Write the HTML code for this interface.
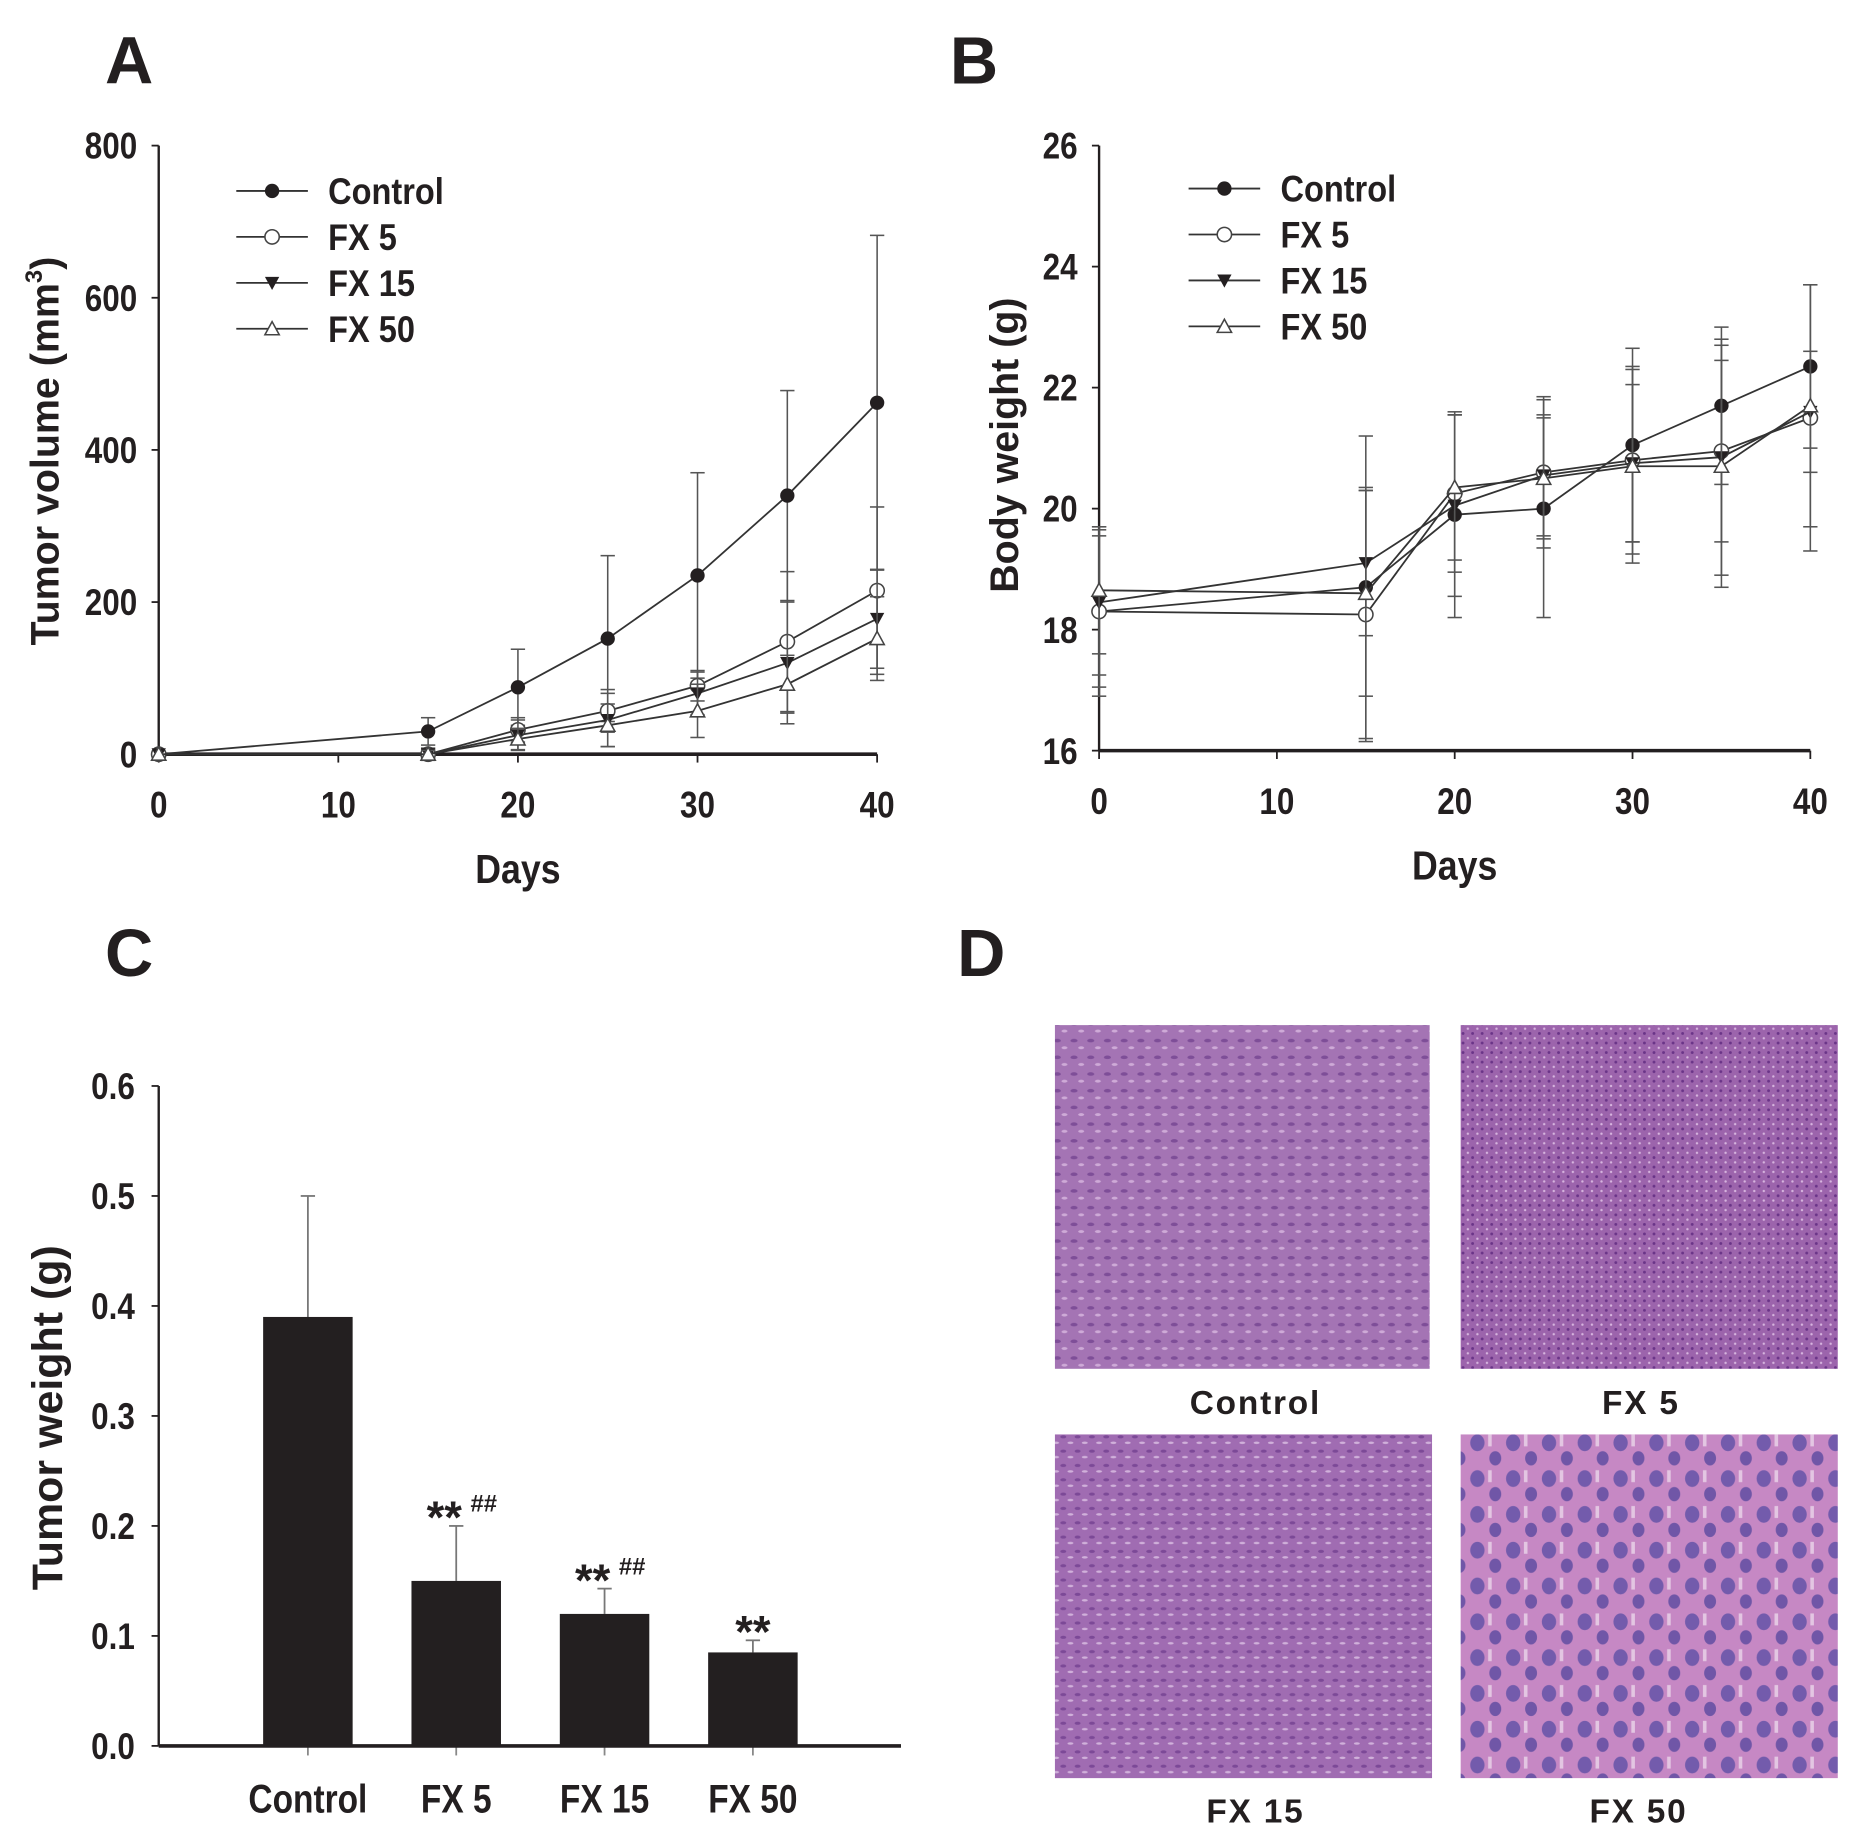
<!DOCTYPE html>
<html><head><meta charset="utf-8"><style>
html,body{margin:0;padding:0;background:#fff;}
svg{display:block;}
text{font-family:"Liberation Sans",Arial,sans-serif;font-weight:bold;fill:#231f20;}
</style></head><body>
<svg id="fig" width="1870" height="1839" viewBox="0 0 1567 1541" xmlns="http://www.w3.org/2000/svg">
<defs>
<pattern id="pA" width="14" height="14" patternUnits="userSpaceOnUse"><rect width="14" height="14" fill="#a474b4"/><ellipse cx="4" cy="4" rx="3" ry="1.5" fill="#6e3e8c" opacity=".7"/><ellipse cx="10" cy="10" rx="2.5" ry="1.2" fill="#d8b8e0" opacity=".8"/></pattern>
<pattern id="pB" width="8" height="8" patternUnits="userSpaceOnUse"><rect width="8" height="8" fill="#9c64ac"/><circle cx="2" cy="2" r="1.2" fill="#6a3488"/><circle cx="6" cy="6" r="1" fill="#d6b4de"/></pattern>
<pattern id="pC" width="12" height="12" patternUnits="userSpaceOnUse"><rect width="12" height="12" fill="#a06cb2"/><ellipse cx="3" cy="4" rx="2.5" ry="1.3" fill="#6c3a8c" opacity=".7"/><ellipse cx="9" cy="9" rx="2.5" ry="1" fill="#dcc0e4" opacity=".8"/></pattern>
<pattern id="pD" width="30" height="30" patternUnits="userSpaceOnUse"><rect width="30" height="30" fill="#c688c4"/><ellipse cx="8" cy="9" rx="6" ry="7" fill="#6454a8" opacity=".85"/><ellipse cx="23" cy="22" rx="5" ry="6" fill="#5a4aa0" opacity=".8"/><rect x="17" y="2" width="3" height="10" fill="#f0e0f0" opacity=".7"/></pattern>
</defs>
<g id="root"></g>
</svg>
<script>
// Panel A data
const daysA = [0,15,20,25,30,35,40];
const volControl = [0,30,88,152,235,340,462];
const volControlErr = [0,18,50,109,135,138,220];
const volFX5 = [0,0,32,57,90,148,215];
const volFX5Err = [0,8,16,28,20,92,110];
const volFX15 = [0,0,25,45,80,120,178];
const volFX15Err = [0,6,20,35,28,80,65];
const volFX50 = [0,0,20,38,57,92,152];
const volFX50Err = [0,5,14,28,35,38,55];
const ticksA = [0,200,400,600,800];
const xTicks = [0,10,20,30,40];
// Panel B data
const wControl = [18.3,18.7,19.9,20.0,21.05,21.7,22.35];
const wControlErr = [1.4,2.5,1.7,1.8,1.6,1.3,1.35];
const wFX5 = [18.3,18.25,20.25,20.6,20.8,20.95,21.5];
const wFX5Err = [1.25,2.1,1.3,1.25,1.55,1.5,2.2];
const wFX15 = [18.45,19.1,20.05,20.55,20.75,20.85,21.6];
const wFX15Err = [1.2,1.2,1.5,1.0,1.3,1.95,1.0];
const wFX50 = [18.65,18.6,20.35,20.5,20.7,20.7,21.7];
const wFX50Err = [1.05,1.7,1.2,1.0,1.6,2.0,2.0];
const ticksB = [16,18,20,22,24,26];
// Panel C data
const groups = ["Control","FX 5","FX 15","FX 50"];
const tumorW = [0.39,0.15,0.12,0.085];
const tumorWErr = [0.11,0.05,0.023,0.011];
const sigLabels = ["","**","**","**"];
const hashLabels = ["","##","##",""];
const ticksC = [0.0,0.1,0.2,0.3,0.4,0.5,0.6];

const NS="http://www.w3.org/2000/svg";
const root=document.getElementById('root');
function mk(tag,attrs,parent,txt){const e=document.createElementNS(NS,tag);for(const k in attrs)e.setAttribute(k,attrs[k]);if(txt!==undefined)e.textContent=txt;(parent||root).appendChild(e);return e;}
function sx(x,s){return `translate(${x} 0) scale(${s} 1) translate(${-x} 0)`;}

function panelLabel(t,x,y){const e=mk('text',{x:x,y:y,'font-size':56,'font-family':'Liberation Sans'},root,t);

}
panelLabel('A',88,70);panelLabel('B',796,70);panelLabel('C',88,818);panelLabel('D',802,818);

function marker(g,type,x,y){
  let e;
  if(type==='fc') e=mk('circle',{cx:x,cy:y,r:6,fill:'#231f20'},g);
  else if(type==='oc') e=mk('circle',{cx:x,cy:y,r:6,fill:'#fff',stroke:'#444','stroke-width':1.3},g);
  else if(type==='dt') e=mk('path',{d:`M${x-6} ${y-5}L${x+6} ${y-5}L${x} ${y+6}Z`,fill:'#231f20'},g);
  else e=mk('path',{d:`M${x-6} ${y+5}L${x+6} ${y+5}L${x} ${y-6}Z`,fill:'#fff',stroke:'#444','stroke-width':1.3},g);
  return e;
}

function lineChart(opt){
  const g=mk('g',{});
  
  
  const X=v=>opt.x0+(v-opt.xmin)/(opt.xmax-opt.xmin)*(opt.x1-opt.x0);
  const Y=v=>opt.y0-(v-opt.ymin)/(opt.ymax-opt.ymin)*(opt.y0-opt.y1);
  mk('line',{x1:opt.x0,y1:opt.y1,x2:opt.x0,y2:opt.y0,stroke:'#231f20','stroke-width':2},g);
  mk('line',{x1:opt.x0,y1:opt.y0,x2:opt.x1,y2:opt.y0,stroke:'#231f20','stroke-width':3},g);
  opt.yticks.forEach(t=>{mk('line',{x1:opt.x0-6,y1:Y(t),x2:opt.x0,y2:Y(t),stroke:'#231f20','stroke-width':1.5},g);
    const tx=mk('text',{x:opt.x0-18,y:Y(t)+11,'text-anchor':'end','font-size':31,transform:sx(opt.x0-18,0.85)},g,String(t));
    });
  xTicks.forEach(t=>{mk('line',{x1:X(t),y1:opt.y0,x2:X(t),y2:opt.y0+7,stroke:'#231f20','stroke-width':1.5},g);
    const tx=mk('text',{x:X(t),y:opt.y0+53,'text-anchor':'middle','font-size':31,transform:sx(X(t),0.85)},g,String(t));
    });
  const xt=mk('text',{x:(opt.x0+opt.x1)/2,y:opt.y0+108,'text-anchor':'middle','font-size':34,transform:sx((opt.x0+opt.x1)/2,0.88)},g,'Days');
  
  const yt=mk('text',{x:0,y:0,'text-anchor':'middle','font-size':opt.ytfs,transform:`translate(${opt.ytx} ${opt.ytc}) rotate(-90)`},g);
  
  yt.innerHTML=opt.ytitle;
  opt.series.forEach(s=>{
    const sg=mk('g',{},g);
    
    
    daysA.forEach((d,i)=>{const e=s.err[i];if(!e)return;
      mk('line',{x1:X(d),y1:Y(s.vals[i]-e),x2:X(d),y2:Y(s.vals[i]+e),stroke:'#555','stroke-width':1.3},sg);
      [s.vals[i]-e,s.vals[i]+e].forEach(v=>mk('line',{x1:X(d)-6,y1:Y(v),x2:X(d)+6,y2:Y(v),stroke:'#555','stroke-width':1.3},sg));});
    mk('polyline',{points:daysA.map((d,i)=>X(d)+','+Y(s.vals[i])).join(' '),fill:'none',stroke:'#333','stroke-width':1.5},sg);
    daysA.forEach((d,i)=>{const m=marker(sg,s.m,X(d),Y(s.vals[i]));
      
      });
  });
  opt.series.forEach((s,i)=>{
    const ly=opt.ly+i*38.5;
    const lg=mk('g',{},g);
    
    
    mk('line',{x1:opt.lx,y1:ly,x2:opt.lx+60,y2:ly,stroke:'#333','stroke-width':1.5},lg);
    marker(lg,s.m,opt.lx+30,ly);
    mk('text',{x:opt.lx+77,y:ly+11,'font-size':31,transform:sx(opt.lx+77,0.88)},lg,s.label);
  });
}

lineChart({name:'tumor-volume-chart',x0:133,x1:735,y0:632,y1:122,xmin:0,xmax:40,ymin:0,ymax:800,yticks:ticksA,ytx:49,ytc:378,ytfs:33,
  ytitle:'Tumor volume (mm<tspan dy="-14" font-size="20">3</tspan><tspan dy="14">)</tspan>',lx:198,ly:160,
  series:[{key:'control',label:'Control',vals:volControl,err:volControlErr,m:'fc'},
          {key:'fx5',label:'FX 5',vals:volFX5,err:volFX5Err,m:'oc'},
          {key:'fx15',label:'FX 15',vals:volFX15,err:volFX15Err,m:'dt'},
          {key:'fx50',label:'FX 50',vals:volFX50,err:volFX50Err,m:'ut'}]});
lineChart({name:'body-weight-chart',x0:921,x1:1517,y0:629,y1:122,xmin:0,xmax:40,ymin:16,ymax:26,yticks:ticksB,ytx:853,ytc:373,ytfs:33,
  ytitle:'Body weight (g)',lx:996,ly:158,
  series:[{key:'control',label:'Control',vals:wControl,err:wControlErr,m:'fc'},
          {key:'fx5',label:'FX 5',vals:wFX5,err:wFX5Err,m:'oc'},
          {key:'fx15',label:'FX 15',vals:wFX15,err:wFX15Err,m:'dt'},
          {key:'fx50',label:'FX 50',vals:wFX50,err:wFX50Err,m:'ut'}]});

// Panel C bar chart
(function(){
  const g=mk('g',{});
  
  
  const x0=133,x1=755,y0=1463,y1=910,ymax=0.6;
  const Y=v=>y0-v/ymax*(y0-y1);
  const step=124.3, first=258, bw=75;
  const X=i=>first+i*step;
  mk('line',{x1:x0,y1:y1,x2:x0,y2:y0,stroke:'#231f20','stroke-width':2},g);
  ticksC.forEach(t=>{mk('line',{x1:x0-6,y1:Y(t),x2:x0,y2:Y(t),stroke:'#231f20','stroke-width':1.5},g);
    const tx=mk('text',{x:x0-20,y:Y(t)+11,'text-anchor':'end','font-size':31,transform:sx(x0-20,0.85)},g,t.toFixed(1));
    });
  groups.forEach((gr,i)=>{
    mk('line',{x1:X(i),y1:y0,x2:X(i),y2:y0+8,stroke:'#888','stroke-width':1.5},g);
    mk('line',{x1:X(i),y1:Y(tumorW[i]),x2:X(i),y2:Y(tumorW[i]+tumorWErr[i]),stroke:'#777','stroke-width':1.5},g);
    mk('line',{x1:X(i)-6,y1:Y(tumorW[i]+tumorWErr[i]),x2:X(i)+6,y2:Y(tumorW[i]+tumorWErr[i]),stroke:'#777','stroke-width':1.5},g);
    const b=mk('rect',{x:X(i)-bw/2,y:Y(tumorW[i]),width:bw,height:y0-Y(tumorW[i]),fill:'#231f20'},g);
    
    
    const lb=mk('text',{x:X(i),y:y0+56,'text-anchor':'middle','font-size':33,fill:'#333',transform:sx(X(i),0.85)},g,gr);
    
    if(sigLabels[i]){const st=mk('text',{x:X(i)-(hashLabels[i]?10:0),y:Y(tumorW[i]+tumorWErr[i])+6,'text-anchor':'middle','font-size':38},g,sigLabels[i]);
      
      if(hashLabels[i]) mk('text',{x:X(i)+12,y:Y(tumorW[i]+tumorWErr[i])-12,'font-size':20,'font-weight':'normal'},g,hashLabels[i]);}
  });
  mk('line',{x1:x0,y1:y0,x2:x1,y2:y0,stroke:'#231f20','stroke-width':3},g);
  const yt=mk('text',{x:0,y:0,'text-anchor':'middle','font-size':36,transform:`translate(52 1188) rotate(-90)`},g,'Tumor weight (g)');
  
})();

// Panel D histology
[['Control',884,859,314,288,'url(#pA)',1052,1175],['FX 5',1224,859,316,288,'url(#pB)',1375,1175],
 ['FX 15',884,1202,316,288,'url(#pC)',1052,1517],['FX 50',1224,1202,316,288,'url(#pD)',1373,1517]].forEach(d=>{
  const r=mk('rect',{x:d[1],y:d[2],width:d[3],height:d[4],fill:d[5]});
  
  
  const t=mk('text',{x:d[6],y:d[7]+10,'text-anchor':'middle','font-size':28,'font-weight':'900','letter-spacing':'1.5'},root,d[0]);
  
  
});
</script>
</body></html>
